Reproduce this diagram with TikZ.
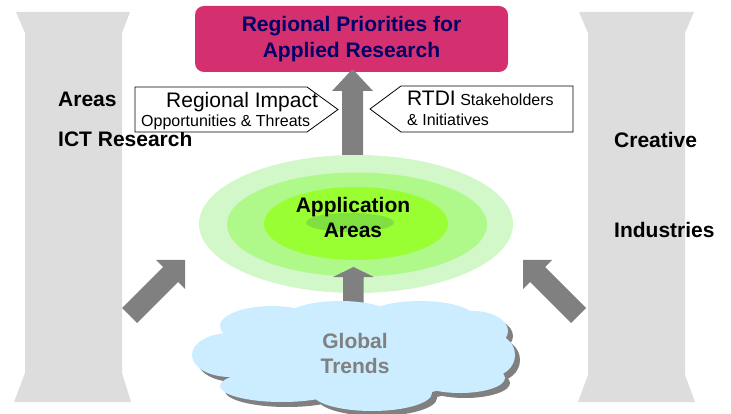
\documentclass[tikz,border=0pt]{standalone}
\usepackage{fontspec}
\setmainfont{Liberation Sans}
\begin{document}
\definecolor{pillar}{HTML}{DDDDDD}
\definecolor{prio}{HTML}{D4306F}
\definecolor{navy}{HTML}{000066}
\definecolor{ringA}{HTML}{D2F7C8}
\definecolor{ringB}{HTML}{AEF98A}
\definecolor{ringC}{HTML}{99FF33}
\definecolor{ringD}{HTML}{80E040}
\definecolor{cloudblue}{HTML}{CCECFF}
\definecolor{arrowgray}{HTML}{808080}
\tikzset{
  big/.style={font=\fontsize{21}{25}\selectfont},
  bigb/.style={font=\bfseries\fontsize{21}{25}\selectfont},
  small/.style={font=\fontsize{16}{19}\selectfont},
  lbl/.style={inner sep=0pt, anchor=base west},
  blockarrow/.style={fill=arrowgray, draw=none},
  tag/.style={fill=white, draw=black, line width=0.8pt, line join=miter},
}
\begin{tikzpicture}[x=1pt, y=-1pt]
\useasboundingbox (0,0) rectangle (731,414);

% side pillars
\fill[pillar] (16,12) -- (130,12) -- (122,33) -- (122,373) -- (131,402)
  -- (14,402) -- (25,373) -- (25,33) -- cycle;
\fill[pillar] (579,12) -- (694,12) -- (685,33) -- (685,375) -- (695,402)
  -- (578,402) -- (588,375) -- (588,33) -- cycle;

% pillar labels
\node[lbl, bigb] (areas) at (58,107) {Areas};
\node[lbl, bigb] (ict) at (58,147) {ICT Research};
\node[lbl, bigb] (creative) at (614,148) {Creative};
\node[lbl, bigb] (industries) at (614,238) {Industries};

% application area rings
\fill[ringA] (356,224) ellipse [x radius=157, y radius=69];
\fill[ringB] (357,224.5) ellipse [x radius=130, y radius=52];
\fill[ringC] (356,223.5) ellipse [x radius=92, y radius=36.5];
\fill[ringD] (350,222.5) ellipse [x radius=44, y radius=9.5];
\node[inner sep=0pt, anchor=base, bigb] (app1) at (353,213) {Application};
\node[inner sep=0pt, anchor=base, bigb] (app2) at (353,238) {Areas};

% priorities box
\node[fill=prio, rounded corners=9pt, minimum width=313pt, minimum height=66pt,
  align=center, text=navy, bigb, inner sep=0pt] (prio) at (351.5,39)
  {Regional Priorities for\\[0.4pt]Applied Research};

% central upward arrow into the priorities box
\fill[blockarrow] (342,155) -- (342,91) -- (332,91) -- (352.5,69) -- (373,91)
  -- (363,91) -- (363,155) -- cycle;

% small arrow from the trends cloud into the rings
\fill[blockarrow] (343,312) -- (343,277) -- (333,277) -- (353.5,267) -- (374,277)
  -- (363.5,277) -- (363.5,312) -- cycle;

% diagonal arrows from the pillars
\fill[blockarrow] (122,308) -- (163,267) -- (156,260) -- (185,260) -- (185,289)
  -- (178,282) -- (137,323) -- cycle;
\fill[blockarrow] (586,308) -- (545,267) -- (552,260) -- (523,260) -- (523,289)
  -- (530,282) -- (571,323) -- cycle;

% tag pointing right
\draw[tag] (135,87) -- (307,87) -- (338,109.5) -- (307,132) -- (135,132) -- cycle;
\node[lbl, big] (impact) at (166,108) {Regional Impact};
\node[lbl, small] (opps) at (141,127) {Opportunities \& Threats};

% tag pointing left
\draw[tag] (573,86) -- (401,86) -- (370,109) -- (401,132) -- (573,132) -- cycle;
\node[lbl] (rtdi) at (407,106) {{\fontsize{21}{25}\selectfont RTDI}{\fontsize{16}{19}\selectfont{} Stakeholders}};
\node[lbl, small] (init) at (407,126) {\& Initiatives};

% global trends cloud with drop shadow
\def\cloudshape#1#2{%
  \fill[#1, shift={#2}]
    (352,355) ellipse [x radius=140, y radius=45]
    (230,355) ellipse [x radius=38, y radius=22]
    (272,326) ellipse [x radius=52, y radius=20]
    (340,318) ellipse [x radius=55, y radius=17]
    (420,318) ellipse [x radius=55, y radius=17]
    (473,331) ellipse [x radius=35, y radius=20]
    (490,355) ellipse [x radius=25, y radius=22]
    (460,378) ellipse [x radius=45, y radius=15]
    (372,393) ellipse [x radius=60, y radius=18]
    (282,386) ellipse [x radius=62, y radius=16];}
\cloudshape{arrowgray}{(5,5)}
\cloudshape{cloudblue}{(0,0)}
\node[inner sep=0pt, anchor=base, bigb, text=arrowgray] (glob1) at (355,348) {Global};
\node[inner sep=0pt, anchor=base, bigb, text=arrowgray] (glob2) at (355,373) {Trends};
\end{tikzpicture}
\end{document}
